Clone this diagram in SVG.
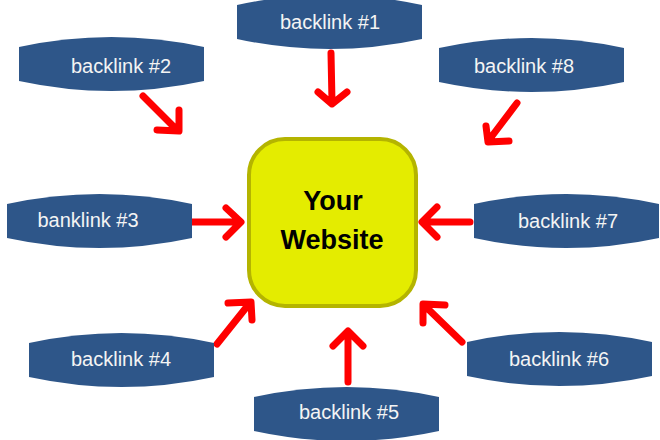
<svg xmlns="http://www.w3.org/2000/svg" xmlns:xlink="http://www.w3.org/1999/xlink" width="660" height="440" viewBox="0 0 660 440">
<style>
.banner{fill:#2e5689}
.lbl{font-family:"Liberation Sans",Arial,sans-serif;font-size:20px;fill:#f4f4f4;text-anchor:middle}
.arr{fill:none;stroke:#ff0000;stroke-width:7;stroke-linecap:round;stroke-linejoin:round}
.box{fill:#e4ec00;stroke:#b4b400;stroke-width:4}
.title{font-family:"Liberation Sans",Arial,sans-serif;font-size:27px;font-weight:bold;fill:#000;text-anchor:middle}
</style>
<defs>
<path id="ban" d="M0,0 Q92.5,-20 185,0 L185,34 Q92.5,54 0,34 Z"/>
</defs>
<rect width="660" height="440" fill="#fff"/>
<g id="connectors">
<path class="arr" d="M331,53 L332,102 M318,92 L332,104 L347,92"/>
<path class="arr" d="M143,96 L177,130 M157,130 L179,131 L179,110"/>
<path class="arr" d="M191,222 L239,222 M226,208 L241,222 L226,237"/>
<path class="arr" d="M470,222 L424,222 M437,207 L422,222 L437,237"/>
<path class="arr" d="M517,103 L489,140 M486,126 L488,142 L509,141"/>
<path class="arr" d="M217,344 L249,304 M228,303 L251,302 L252,320"/>
<path class="arr" d="M348,382 L348,333 M333,346 L348,331 L363,346"/>
<path class="arr" d="M462,342 L425,306 M445,305 L423,304 L423,323"/>
</g>
<g id="website">
<rect class="box" x="249" y="139" width="167" height="167" rx="36"/>
<text class="title" x="333" y="210">Your</text>
<text class="title" x="332" y="249">Website</text>
</g>
<g id="backlink1"><use href="#ban" class="banner" transform="translate(237,5)"/><text class="lbl" x="330" y="29">backlink #1</text></g>
<g id="backlink2"><use href="#ban" class="banner" transform="translate(19,47)"/><text class="lbl" x="121" y="73">backlink #2</text></g>
<g id="backlink3"><use href="#ban" class="banner" transform="translate(7,204)"/><text class="lbl" x="88" y="227">banklink #3</text></g>
<g id="backlink4"><use href="#ban" class="banner" transform="translate(29,343)"/><text class="lbl" x="121" y="366">backlink #4</text></g>
<g id="backlink5"><use href="#ban" class="banner" transform="translate(254,397)"/><text class="lbl" x="349" y="419">backlink #5</text></g>
<g id="backlink6"><use href="#ban" class="banner" transform="translate(467,342)"/><text class="lbl" x="559" y="366">backlink #6</text></g>
<g id="backlink7"><use href="#ban" class="banner" transform="translate(474,204)"/><text class="lbl" x="568" y="228">backlink #7</text></g>
<g id="backlink8"><use href="#ban" class="banner" transform="translate(439,48)"/><text class="lbl" x="524" y="73">backlink #8</text></g>
</svg>
